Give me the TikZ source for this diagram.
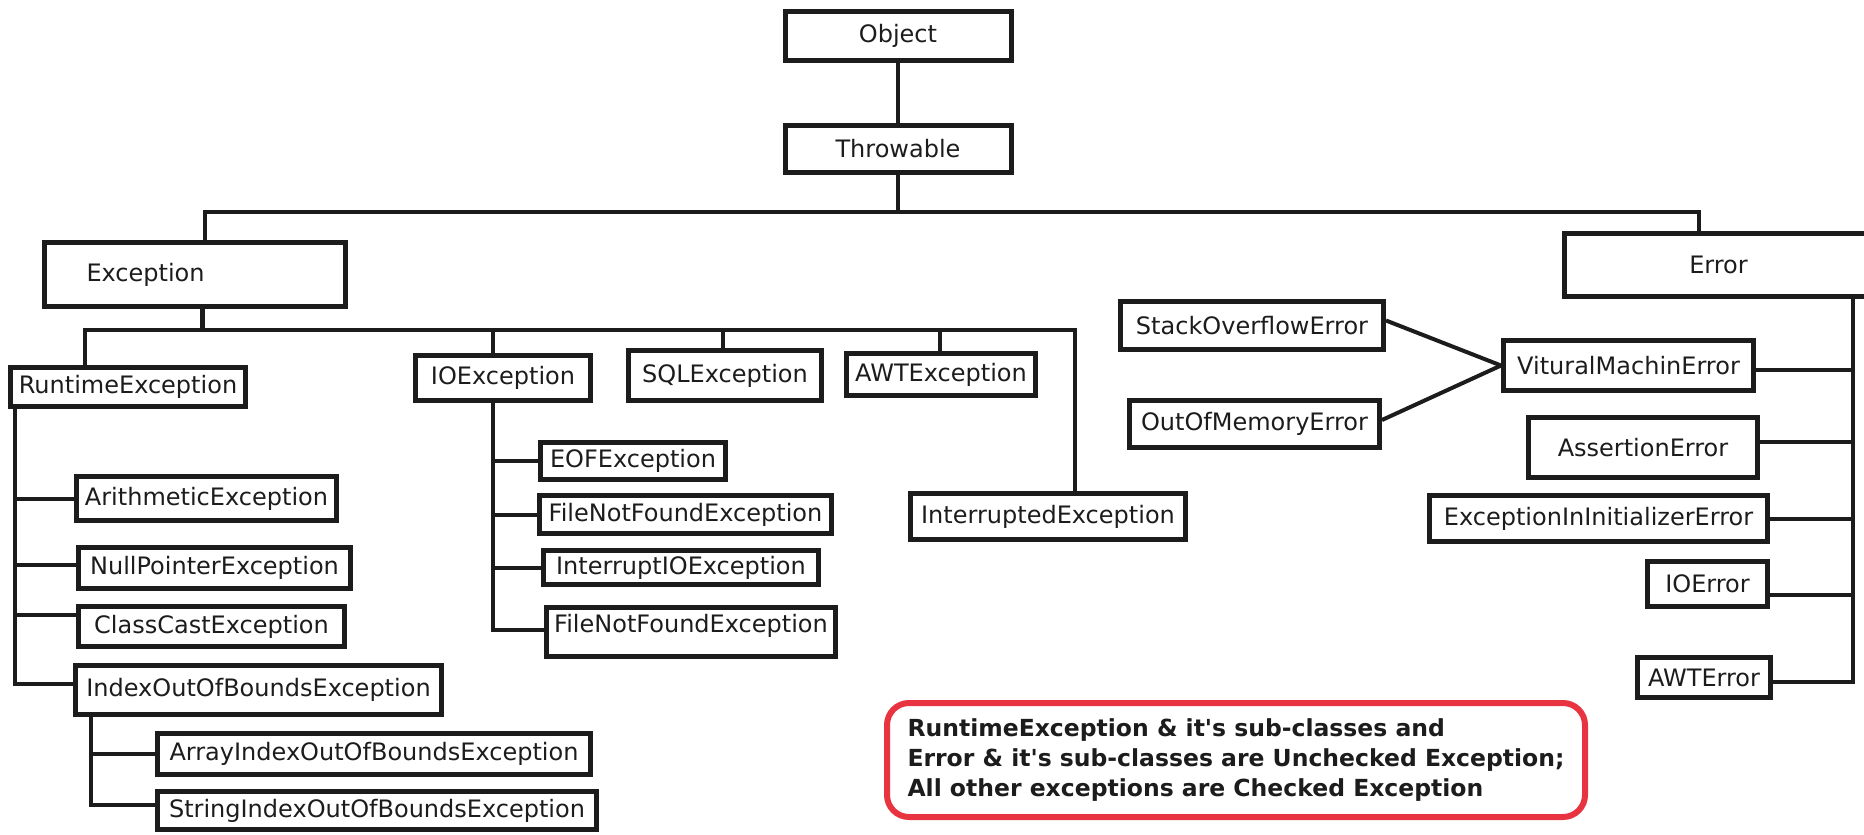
\documentclass[tikz,border=0pt]{standalone}
\usepackage{fontspec}
\setmainfont{DejaVu Sans}
\usetikzlibrary{positioning,calc}
\definecolor{notered}{RGB}{232,52,64}
\definecolor{ink}{RGB}{28,28,28}

\begin{document}
\begin{tikzpicture}[x=1pt, y=-1pt,
    cls/.style={draw=ink, line width=5pt, inner sep=1pt, align=center, text=ink, font=\fontsize{24}{28}\selectfont},
    link/.style={draw=ink, line width=4pt},
    note/.style={draw=notered, line width=6pt, rounded corners=22pt, align=left, text=ink, font=\bfseries\fontsize{23.5}{30}\selectfont}
]
\useasboundingbox (0,0) rectangle (1864,835);

% top of the tree
\node[cls, minimum width=226pt, minimum height=49pt] (obj) at (898,36) {Object};
\node[cls, minimum width=226pt, minimum height=47pt] (thr) at (898,149) {Throwable};
\node[cls, minimum width=301pt, minimum height=64pt, text width=299pt, align=left] (exc) at (195,274.5) {\hspace*{41pt}Exception};
\node[cls, minimum width=308pt, minimum height=63pt] (err) at (1718.5,265) {Error};

% exception side
\node[cls, minimum width=235pt, minimum height=39pt] (rt) at (128,387) {RuntimeException};
\node[cls, minimum width=175pt, minimum height=45pt] (io) at (503,378) {IOException};
\node[cls, minimum width=193pt, minimum height=50pt] (sql) at (725,375.5) {SQLException};
\node[cls, minimum width=189pt, minimum height=42pt] (awt) at (941,374.5) {AWTException};
\node[cls, minimum width=275pt, minimum height=46pt] (intr) at (1048,516.5) {InterruptedException};

\node[cls, minimum width=260pt, minimum height=44pt] (ari) at (206.5,498.5) {ArithmeticException};
\node[cls, minimum width=272pt, minimum height=41pt] (np) at (214.5,568) {NullPointerException};
\node[cls, minimum width=266pt, minimum height=40pt] (cc) at (211.5,626.5) {ClassCastException};
\node[cls, minimum width=366pt, minimum height=49pt] (ioob) at (258.5,690) {IndexOutOfBoundsException};
\node[cls, minimum width=433pt, minimum height=41pt] (arr) at (374,754) {ArrayIndexOutOfBoundsException};
\node[cls, minimum width=439pt, minimum height=38pt] (str) at (377,810.5) {StringIndexOutOfBoundsException};

\node[cls, minimum width=185pt, minimum height=37pt] (eof) at (633,461) {EOFException};
\node[cls, minimum width=292pt, minimum height=38pt] (fnfa) at (685.5,514.5) {FileNotFoundException};
\node[cls, minimum width=275pt, minimum height=34pt] (iio) at (681,567.5) {InterruptIOException};
\node[cls, minimum width=289pt, minimum height=49pt, text depth=17pt] (fnfb) at (691,632) {FileNotFoundException};

% error side
\node[cls, minimum width=263pt, minimum height=48pt] (sof) at (1252,325.5) {StackOverflowError};
\node[cls, minimum width=250pt, minimum height=47pt] (oom) at (1254.5,424) {OutOfMemoryError};
\node[cls, minimum width=250pt, minimum height=50pt] (vm) at (1628.5,365.5) {VituralMachinError};
\node[cls, minimum width=229pt, minimum height=60pt] (ass) at (1643,447.5) {AssertionError};
\node[cls, minimum width=338pt, minimum height=46pt] (eiie) at (1598.5,518.5) {ExceptionInInitializerError};
\node[cls, minimum width=120pt, minimum height=45pt] (ioe) at (1707.5,584) {IOError};
\node[cls, minimum width=133pt, minimum height=40pt] (awte) at (1704,677.5) {AWTError};

\node[note, minimum width=698pt, minimum height=114pt] (rule) at (1236,760) {RuntimeException \& it\textquotesingle s sub-classes and\\Error \& it\textquotesingle s sub-classes are Unchecked Exception;\\All other exceptions are Checked Exception};

% buses
\coordinate (bus1) at (1000,212);
\coordinate (bus2) at (500,330);
\coordinate (rtbus) at ([xshift=6.5]rt.south west);
\coordinate (ixbus) at ([xshift=17.5]ioob.south west);
\coordinate (iobus) at ([xshift=-10]io.south);
\coordinate (erbus) at ([xshift=-22.5]err.south east);

\draw[link] (obj) -- (thr);
\draw[link] (thr.south) -- (thr.south |- bus1);
\draw[link] ([xshift=10]exc.north) |- (bus1) -| ([xshift=-20]err.north);
\draw[link, line width=5pt] ([xshift=7]exc.south) -- ([xshift=7]exc.south |- bus2);
\draw[link] ([xshift=-43]rt.north) |- (bus2) -| ([xshift=27]intr.north);
\foreach \n/\dx in {io/-10, sql/-2, awt/-1}
    \draw[link] ([xshift=\dx]\n.north) -- ([xshift=\dx]\n.north |- bus2);

\draw[link] (rtbus) |- ([yshift=6]ioob.west);
\foreach \n/\dy in {ari/0, np/3, cc/12}
    \draw[link] ([yshift=\dy]\n.west) -- ([yshift=\dy]\n.west -| rtbus);
\draw[link] (ixbus) |- ([yshift=5.5]str.west);
\draw[link] (arr.west) -- (arr.west -| ixbus);

\draw[link] (iobus) |- ([yshift=2]fnfb.west);
\foreach \n in {eof, fnfa, iio}
    \draw[link] (\n.west) -- (\n.west -| iobus);

\draw[link] (erbus) |- ([yshift=-4.5]awte.east);
\foreach \n/\dy in {vm/-4.5, ass/5.5, eiie/0, ioe/-11}
    \draw[link] ([yshift=\dy]\n.east) -- ([yshift=\dy]\n.east -| erbus);
\draw[link] ([yshift=5]sof.east) -- (vm.west);
\draw[link] ([yshift=4]oom.east) -- (vm.west);
\end{tikzpicture}
\end{document}
